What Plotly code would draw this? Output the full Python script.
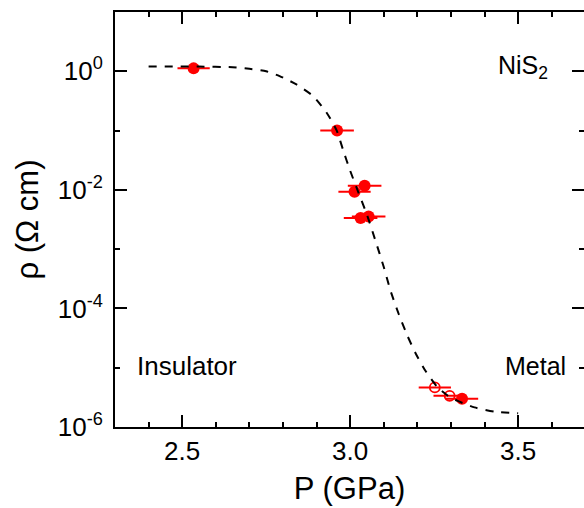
import plotly.graph_objects as go

# ---- data ----
filled_P = [2.534, 2.961, 3.013, 3.043, 3.031, 3.055, 3.333]
filled_rho = [1.12, 0.100, 0.0093, 0.0117, 0.00334, 0.00356, 3.0e-6]
filled_err = [0.048, 0.05, 0.048, 0.05, 0.05, 0.05, 0.048]

open_P = [3.252, 3.296]
open_rho = [4.65e-6, 3.36e-6]
open_err = [0.048, 0.048]

curve_P = [2.40, 2.55, 2.65, 2.70, 2.75, 2.79, 2.84, 2.89, 2.93, 2.96, 2.98, 3.00,
           3.025, 3.05, 3.075, 3.10, 3.12, 3.145, 3.17, 3.195, 3.225, 3.26, 3.29,
           3.32, 3.37, 3.43, 3.50]
curve_rho = [1.20, 1.20, 1.17, 1.10, 1.00, 0.83, 0.60, 0.38, 0.20, 0.10, 0.045, 0.021,
             0.0089, 0.0038, 0.0014, 5.0e-4, 2.0e-4, 7.9e-5, 3.5e-5, 1.74e-5, 8.7e-6,
             4.7e-6, 3.4e-6, 2.75e-6, 2.14e-6, 1.82e-6, 1.70e-6]

y_tickvals = [1, 1e-2, 1e-4, 1e-6]
y_ticktext = ["10<sup>0</sup>", "10<sup>-2</sup>", "10<sup>-4</sup>", "10<sup>-6</sup>"]
y_minor = [1e-1, 1e-3, 1e-5]
x_tickvals = [2.5, 3.0, 3.5]
x_ticktext = ["2.5", "3.0", "3.5"]

FONT = "Liberation Sans"
RED = "#ff0000"

fig = go.Figure()
fig.add_trace(go.Scatter(
    x=filled_P, y=filled_rho, mode="markers",
    marker=dict(symbol="circle", size=12, color=RED),
    error_x=dict(type="data", array=filled_err, color=RED, thickness=2, width=0),
    showlegend=False))
fig.add_trace(go.Scatter(
    x=open_P, y=open_rho, mode="markers",
    marker=dict(symbol="circle-open", size=10, color=RED, line=dict(width=1.8, color=RED)),
    error_x=dict(type="data", array=open_err, color=RED, thickness=2, width=0),
    showlegend=False))
fig.add_trace(go.Scatter(
    x=curve_P, y=curve_rho, mode="lines",
    line=dict(color="black", width=2, dash="8px,8px", shape="spline", smoothing=0.6),
    showlegend=False))
# invisible trace on the right-hand axis so its ticks are drawn
fig.add_trace(go.Scatter(x=[curve_P[0]], y=[curve_rho[0]], yaxis="y2", mode="markers",
                         marker=dict(opacity=0), showlegend=False, hoverinfo="skip"))

fig.add_annotation(x=2.361, y=-4.975, xref="x", yref="y", text="Insulator",
                   showarrow=False, xanchor="left", yanchor="middle",
                   font=dict(family=FONT, size=26, color="black"))
fig.add_annotation(x=3.647, y=-4.975, xref="x", yref="y", text="Metal",
                   showarrow=False, xanchor="right", yanchor="middle",
                   font=dict(family=FONT, size=25, color="black"))
fig.add_annotation(x=3.435, y=0.07, xref="x", yref="y", text="NiS<sub>2</sub>",
                   showarrow=False, xanchor="left", yanchor="middle",
                   font=dict(family=FONT, size=25, color="black"))

axis_common = dict(showgrid=False, zeroline=False, linecolor="black", linewidth=2,
                   tickcolor="black", tickwidth=2)

fig.update_layout(
    width=584, height=508,
    margin=dict(l=115, r=0, t=12, b=81),
    paper_bgcolor="white", plot_bgcolor="white",
    font=dict(family=FONT, size=26, color="black"),
    xaxis=dict(range=[2.3, 3.696], showline=True, mirror="ticks", ticks="inside",
               ticklen=12, tickmode="array", tickvals=x_tickvals, ticktext=x_ticktext,
               minor=dict(dtick=0.1, tick0=2.3, ticks="inside", ticklen=5,
                          tickwidth=2, tickcolor="black"),
               title=dict(text="P (GPa)", standoff=12),
               **axis_common),
    yaxis=dict(type="log", range=[-6, 1], showline=True, ticks="inside", ticklen=12,
               tickmode="array", tickvals=y_tickvals, ticktext=y_ticktext,
               ticklabelstandoff=5,
               minor=dict(tickvals=y_minor, ticks="inside", ticklen=5,
                          tickwidth=2, tickcolor="black"),
               title=dict(text="ρ (Ω cm)", standoff=10),
               **axis_common),
    yaxis2=dict(type="log", range=[-6, 1], overlaying="y", side="right",
                showline=False, ticks="inside", ticklen=12, showticklabels=False,
                tickmode="array", tickvals=y_tickvals,
                minor=dict(tickvals=y_minor, ticks="inside", ticklen=5,
                           tickwidth=2, tickcolor="black"),
                showgrid=False, zeroline=False, tickcolor="black", tickwidth=2),
)

fig.write_html("out.html", config={"displayModeBar": False},
               post_script="document.body.style.margin='0';document.body.style.overflow='hidden';")
